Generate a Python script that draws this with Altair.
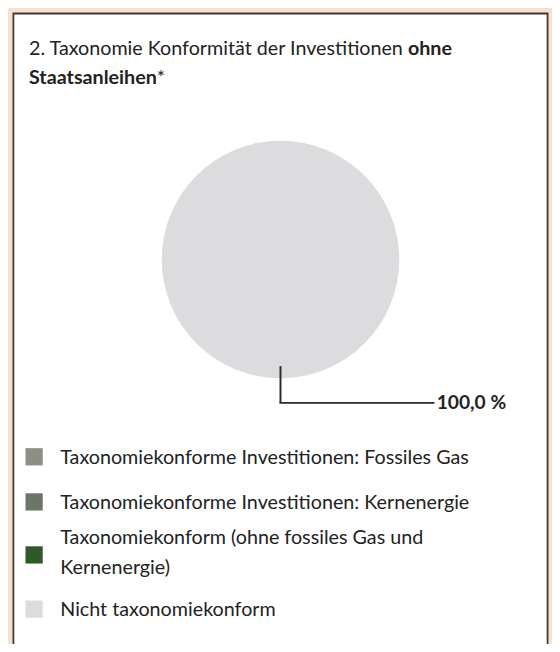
import altair as alt
import pandas as pd

# ---------------- data ----------------
categories = [
    "Taxonomiekonforme Investitionen: Fossiles Gas",
    "Taxonomiekonforme Investitionen: Kernenergie",
    "Taxonomiekonform (ohne fossiles Gas und Kernenergie)",
    "Nicht taxonomiekonform",
]
legend_labels = [
    "Taxonomiekonforme Investitionen: Fossiles Gas",
    "Taxonomiekonforme Investitionen: Kernenergie",
    "Taxonomiekonform (ohne fossiles Gas und\nKernenergie)",
    "Nicht taxonomiekonform",
]
values = [0.0, 0.0, 0.0, 100.0]
colors = ["#8e8f82", "#6d7666", "#2e5a27", "#dcdcde"]

title_regular = "2. Taxonomie Konformität der Investitionen"
title_bold_1 = "ohne"
title_bold_2 = "Staatsanleihen"
title_star = "*"

df = pd.DataFrame({"category": categories, "value": values, "legend": legend_labels})

# ---------------- layout ----------------
W, H = 552, 636
FONT = "Lato"
TEXT_COLOR = "#222222"
BG = "#fae0cb"
BORDER = "#3a3a3a"
CX, CY, R = 276.5, 250.5, 120.5
FS = 20
TX = 21.3

color_scale = alt.Scale(domain=categories, range=colors)
one = pd.DataFrame({"k": [0]})

layers = []

# white panel with dark border (runs off the bottom)
layers.append(
    alt.Chart(one).mark_rect(fill="white", stroke=BORDER, strokeWidth=1.8).encode(
        x=alt.value(5.5), x2=alt.value(547.5), y=alt.value(0.9), y2=alt.value(H + 40)
    )
)

# title
layers.append(
    alt.Chart(one).mark_text(font=FONT, fontSize=FS, align="left", baseline="alphabetic", color=TEXT_COLOR).encode(
        x=alt.value(TX), y=alt.value(42.7), text=alt.value(title_regular)
    )
)
layers.append(
    alt.Chart(one).mark_text(font=FONT, fontSize=FS, fontWeight="bold", align="left", baseline="alphabetic", color=TEXT_COLOR).encode(
        x=alt.value(TX + 384.5), y=alt.value(42.7), text=alt.value(title_bold_1)
    )
)
layers.append(
    alt.Chart(one).mark_text(font=FONT, fontSize=FS, fontWeight="bold", align="left", baseline="alphabetic", color=TEXT_COLOR).encode(
        x=alt.value(TX), y=alt.value(72.7), text=alt.value(title_bold_2)
    )
)
layers.append(
    alt.Chart(one).mark_text(font=FONT, fontSize=FS, align="left", baseline="alphabetic", color=TEXT_COLOR).encode(
        x=alt.value(151), y=alt.value(72.7), text=alt.value(title_star)
    )
)

# pie
layers.append(
    alt.Chart(df).mark_arc(outerRadius=R).encode(
        theta=alt.Theta("value:Q", stack=True),
        color=alt.Color("category:N", scale=color_scale, legend=None),
        order=alt.Order("idx:Q"),
        x=alt.value(CX), y=alt.value(CY),
    ).transform_window(idx="row_number()")
)

# leader line + label
layers.append(
    alt.Chart(one).mark_rule(color="#2b2b2b", strokeWidth=2).encode(
        x=alt.value(CX), y=alt.value(358.7), y2=alt.value(396)
    )
)
layers.append(
    alt.Chart(one).mark_rule(color="#2b2b2b", strokeWidth=2).encode(
        x=alt.value(CX - 1), x2=alt.value(432.7), y=alt.value(396)
    )
)
layers.append(
    alt.Chart(df).transform_filter("datum.value > 0").transform_calculate(
        label="replace(format(datum.value, '.1f'), '.', ',') + ' %'"
    ).mark_text(font=FONT, fontSize=19.5, fontWeight="bold", align="left", baseline="alphabetic", color=TEXT_COLOR).encode(
        x=alt.value(435), y=alt.value(402), text="label:N"
    )
)

# legend
legend_sq_y = [450.7, 496.5, 550.3, 605.3]
legend_tx_y = [457.7, 503.5, 539, 612]
for i, cat in enumerate(categories):
    row = df[df["category"] == cat]
    layers.append(
        alt.Chart(row).mark_square(size=17.5 * 17.5, opacity=1).encode(
            x=alt.value(26.5), y=alt.value(legend_sq_y[i]),
            color=alt.Color("category:N", scale=color_scale, legend=None),
        )
    )
    layers.append(
        alt.Chart(row).mark_text(font=FONT, fontSize=FS, align="left", baseline="alphabetic",
                                 lineBreak="\n", lineHeight=31, color=TEXT_COLOR).encode(
            x=alt.value(53), y=alt.value(legend_tx_y[i]), text="legend:N"
        )
    )

chart = alt.layer(*layers).properties(
    width=W, height=H, padding=0, autosize=alt.AutoSizeParams(type="none")
).configure(background=BG).configure_view(stroke=None)

chart.save("out.html", embed_options={"renderer": "svg", "actions": False})
